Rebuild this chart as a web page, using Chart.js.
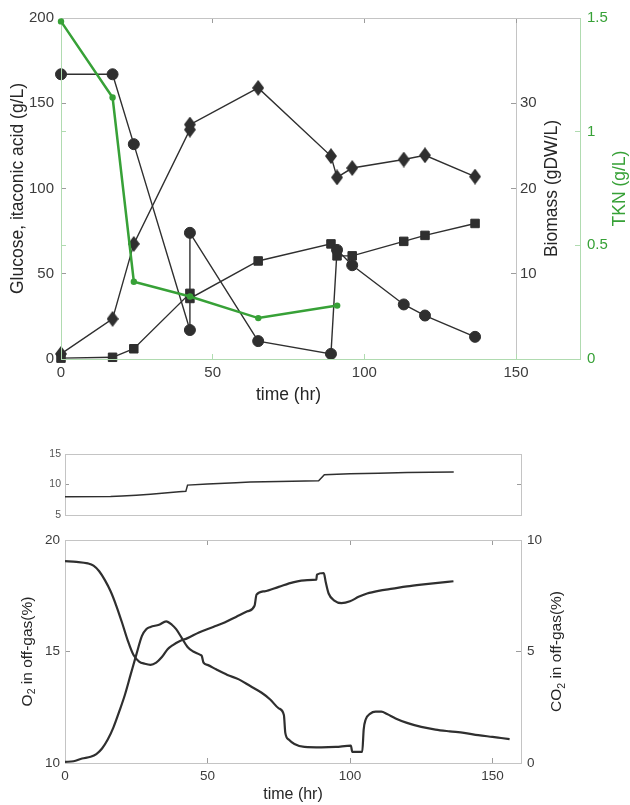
<!DOCTYPE html>
<html>
<head>
<meta charset="utf-8">
<script src="https://cdn.jsdelivr.net/npm/chart.js@4.4.1/dist/chart.umd.min.js"></script>
<style>
body { margin: 0; background: #fff; }
#wrap { position: relative; width: 630px; height: 805px; }
#wrap canvas { position: absolute; left: 0; }
</style>
</head>
<body>
<div id="wrap">
  <canvas id="cA" width="630" height="410" style="top:0px"></canvas>
  <canvas id="cB" width="630" height="410" style="top:0px"></canvas>
  <canvas id="cC" width="630" height="85" style="top:440px"></canvas>
  <canvas id="cD" width="630" height="280" style="top:525px"></canvas>
</div>
<script>
// sampled values (top panel)
var tSample  = [0, 17, 24, 42.5, 42.5, 65, 89, 91, 96, 113, 120, 136.5];
var glucose  = [167, 167, 126, 17, 74, 10.5, 3, 64, 55, 32, 25.5, 13];
var itaconic = [0.5, 1, 6, 38.5, 35.5, 57.5, 67.5, 60.5, 60.5, 69, 72.5, 79.5];
var biomass  = [0.6, 4.7, 13.5, 26.9, 27.5, 31.8, 23.8, 21.3, 22.4, 23.4, 23.9, 21.4];
var tTKN = [0, 17, 24, 42.5, 65, 91];
var tkn  = [1.485, 1.15, 0.34, 0.275, 0.18, 0.235];

// small panel trace
var tAir = [0, 16, 20, 25, 30, 35, 40, 42.4, 43, 50, 60, 65, 75, 89, 91, 100, 110, 120, 136.4];
var air  = [8.0, 8.02, 8.1, 8.25, 8.4, 8.6, 8.8, 8.88, 9.9, 10.1, 10.3, 10.4, 10.5, 10.6, 11.6, 11.75, 11.85, 11.95, 12.05];

// off-gas traces
var tO2 = [0, 4, 8, 10, 12, 14, 16, 18, 20, 22, 24, 26, 28, 30, 32, 34, 36, 38, 40, 43, 47, 52, 56, 60, 64,
           66.5, 67.2, 70, 75, 80, 85, 88.2, 88.4, 90.8, 91.5, 92.5, 94.5, 97, 100, 103, 106, 110, 115, 120, 125, 130, 136.3];
var o2  = [19.05, 19.02, 18.95, 18.85, 18.6, 18.2, 17.7, 17.05, 16.3, 15.5, 14.85, 14.55, 14.45, 14.4, 14.5, 14.75, 15.1, 15.3, 15.45, 15.6, 15.85, 16.1, 16.3, 16.55, 16.8,
           17.05, 17.55, 17.7, 17.9, 18.1, 18.2, 18.22, 18.45, 18.52, 18.1, 17.6, 17.28, 17.17, 17.25, 17.45, 17.6, 17.72, 17.82, 17.92, 18.0, 18.07, 18.15];
var tCO2 = [0, 3, 6, 9, 11, 13, 15, 17, 19, 21, 23, 25, 27, 28.5, 30, 33, 35.5, 37.5, 39, 41, 43, 45, 47.5, 48, 48.6, 50, 53, 57, 61, 65, 69, 72, 75,
            76.8, 77.3, 78.5, 80.5, 84, 90, 95, 100.3, 100.8, 104.3, 104.8, 105.5, 107, 109, 111, 113, 116, 120, 125, 130, 135, 140, 145, 150, 153, 156];
var co2  = [0.05, 0.08, 0.2, 0.28, 0.4, 0.65, 1.05, 1.6, 2.3, 3.05, 3.95, 4.85, 5.7, 6.0, 6.1, 6.2, 6.35, 6.2, 6.0, 5.6, 5.2, 5.0, 4.85, 4.8, 4.5, 4.4, 4.2, 3.95, 3.75, 3.45, 3.15, 2.85, 2.45,
            2.15, 1.35, 1.05, 0.85, 0.72, 0.7, 0.72, 0.78, 0.5, 0.5, 1.5, 1.95, 2.2, 2.3, 2.3, 2.2, 2.0, 1.8, 1.62, 1.5, 1.42, 1.35, 1.25, 1.17, 1.12, 1.07];

// tick labels
var timeTicks = [0, 50, 100, 150];
var glcTicks = [0, 50, 100, 150, 200];
var bioTicks = [10, 20, 30];
var tknTicks = [0, 0.5, 1, 1.5];
var airTicks = [5, 10, 15];
var o2Ticks = [10, 15, 20];
var co2Ticks = [0, 5, 10];

var FONT = '"Liberation Sans", Arial, sans-serif';
var INK = '#2f2f2f', TXT = '#262626', TICK = '#3c3c3c', FRAME = '#c4c4c4', MARK = '#9c9c9c';
var GREEN = '#37a137', GREEN_AX = '#b0dbb0';
Chart.defaults.font.family = FONT;

function pts(xs, ys) {
  return xs.map(function (x, i) { return {x: x, y: ys[i]}; });
}

// axis with inward tick marks and a fixed box size
function scale(o) {
  return {
    type: 'linear', position: o.pos, min: o.min, max: o.max,
    afterBuildTicks: function (s) { s.ticks = o.ticks.map(function (v) { return {value: v}; }); },
    afterFit: function (s) {
      if (s.isHorizontal()) s.height = o.size; else s.width = o.size;
      // labels may overhang the plot corners, keep the frame where it is
      s.paddingTop = s.paddingBottom = s.paddingLeft = s.paddingRight = 0;
    },
    ticks: {
      display: !!o.labels, color: o.labelColor || TICK, font: {size: o.fontSize || 15},
      padding: o.pad || 0, maxRotation: 0, autoSkip: false,
      callback: function (v) { return String(v); }
    },
    grid: {drawOnChartArea: false, drawTicks: o.mark !== 0, tickLength: o.mark === undefined ? -5 : o.mark, color: o.markColor || MARK},
    border: {display: true, color: o.line || FRAME, width: 1},
    title: o.title ? {display: true, text: o.title, color: TXT, font: {size: o.titleSize || 17.5}, padding: o.titlePad} : {display: false}
  };
}

// rotated axis titles (bottom-to-top) with optional subscripts
var sideTitles = {
  id: 'sideTitles',
  afterDraw: function (chart, args, opts) {
    var ctx = chart.ctx, area = chart.chartArea;
    (opts.items || []).forEach(function (it) {
      var size = it.size, sub = size * 0.68;
      ctx.save();
      ctx.translate(it.x, (area.top + area.bottom) / 2);
      ctx.rotate(-Math.PI / 2);
      ctx.fillStyle = it.color;
      ctx.textBaseline = 'middle';
      ctx.textAlign = 'left';
      var widths = it.parts.map(function (p) {
        ctx.font = (p[1] ? sub : size) + 'px ' + FONT;
        return ctx.measureText(p[0]).width;
      });
      var x = -widths.reduce(function (a, b) { return a + b; }, 0) / 2;
      it.parts.forEach(function (p, i) {
        ctx.font = (p[1] ? sub : size) + 'px ' + FONT;
        ctx.fillText(p[0], x, p[1] ? size * 0.32 : 0);
        x += widths[i];
      });
      ctx.restore();
    });
  }
};

function diamond(w, h, color) {
  var c = document.createElement('canvas');
  c.width = w; c.height = h;
  var g = c.getContext('2d');
  g.fillStyle = color;
  g.beginPath();
  g.moveTo(w / 2, 0); g.lineTo(w, h / 2); g.lineTo(w / 2, h); g.lineTo(0, h / 2);
  g.closePath();
  g.fill();
  return c;
}

var base = {
  responsive: false, animation: false, events: [],
  plugins: {legend: {display: false}, tooltip: {enabled: false}}
};
function opts(extra) {
  return Object.assign({}, base, extra, {plugins: Object.assign({}, base.plugins, extra.plugins || {})});
}

// top panel, black series
new Chart(document.getElementById('cA'), {
  type: 'line',
  data: {datasets: [
    {data: pts(tSample, glucose), yAxisID: 'y', borderColor: INK, backgroundColor: INK, borderWidth: 1.4,
     pointStyle: 'circle', pointRadius: 5.5, pointBorderWidth: 1, clip: false},
    {data: pts(tSample, itaconic), yAxisID: 'y', borderColor: INK, backgroundColor: INK, borderWidth: 1.4,
     pointStyle: 'rect', pointRadius: 6, pointBorderWidth: 1, clip: false},
    {data: pts(tSample, biomass), yAxisID: 'y1', borderColor: INK, backgroundColor: INK, borderWidth: 1.4,
     pointStyle: diamond(12, 16, INK), pointRadius: 7, clip: false}
  ]},
  options: opts({
    layout: {padding: {top: 18, left: 0, right: 0, bottom: 0}},
    plugins: {sideTitles: {items: [
      {x: 18, size: 17.5, color: TXT, parts: [['Glucose, itaconic acid (g/L)']]},
      {x: 552, size: 17.5, color: TXT, parts: [['Biomass (gDW/L)']]}
    ]}},
    scales: {
      x: scale({pos: 'bottom', min: 0, max: 150, ticks: timeTicks, size: 51, labels: true, pad: 9.5,
                title: 'time (hr)', titlePad: {top: 0, bottom: 4}}),
      y: scale({pos: 'left', min: 0, max: 200, ticks: glcTicks, size: 61, labels: true, pad: 12}),
      y1: scale({pos: 'right', min: 0, max: 40, ticks: bioTicks, size: 114, labels: true, pad: 9})
    }
  }),
  plugins: [sideTitles]
});

// top panel, TKN overlay with its own wider frame
new Chart(document.getElementById('cB'), {
  type: 'line',
  data: {datasets: [
    {data: pts(tTKN, tkn), xAxisID: 'x', yAxisID: 'yT', borderColor: GREEN, backgroundColor: GREEN, borderWidth: 2.5,
     pointStyle: 'circle', pointRadius: 3.2, pointBorderWidth: 0, clip: false}
  ]},
  options: opts({
    layout: {padding: {top: 18, left: 0, right: 0, bottom: 0}},
    plugins: {sideTitles: {items: [
      {x: 620, size: 17.5, color: GREEN, parts: [['TKN (g/L)']]}
    ]}},
    scales: {
      x: scale({pos: 'bottom', min: 0, max: 171, ticks: [50, 100, 150], size: 51, line: GREEN_AX, markColor: GREEN_AX}),
      xTop: scale({pos: 'top', min: 0, max: 171, ticks: [50, 100, 150], size: 0}),
      yL: scale({pos: 'left', min: 0, max: 1.5, ticks: [0.5, 1], size: 61, line: GREEN_AX, markColor: GREEN_AX}),
      yT: scale({pos: 'right', min: 0, max: 1.5, ticks: tknTicks, size: 50, labels: true, pad: 12,
                 labelColor: GREEN, line: GREEN_AX, markColor: GREEN_AX})
    }
  }),
  plugins: [sideTitles]
});

// small middle panel
new Chart(document.getElementById('cC'), {
  type: 'line',
  data: {datasets: [
    {data: pts(tAir, air), borderColor: INK, borderWidth: 1.5, pointRadius: 0, clip: false}
  ]},
  options: opts({
    layout: {padding: {top: 14, left: 0, right: 0, bottom: 0}},
    scales: {
      x: scale({pos: 'bottom', min: 0, max: 160, ticks: [], size: 10, mark: 0}),
      xTop: scale({pos: 'top', min: 0, max: 160, ticks: [], size: 0, mark: 0}),
      y: scale({pos: 'left', min: 5, max: 15, ticks: airTicks, size: 65, labels: true, pad: 8,
                fontSize: 10.5, labelColor: '#555555', mark: -4}),
      y2: scale({pos: 'right', min: 5, max: 15, ticks: [10], size: 109, mark: -4})
    }
  })
});

// off-gas O2 / CO2
new Chart(document.getElementById('cD'), {
  type: 'line',
  data: {datasets: [
    {data: pts(tO2, o2), yAxisID: 'y', borderColor: INK, borderWidth: 2.2, pointRadius: 0,
     cubicInterpolationMode: 'monotone', clip: false},
    {data: pts(tCO2, co2), yAxisID: 'y2', borderColor: INK, borderWidth: 2.2, pointRadius: 0,
     cubicInterpolationMode: 'monotone', clip: false}
  ]},
  options: opts({
    layout: {padding: {top: 15, left: 0, right: 0, bottom: 0}},
    plugins: {sideTitles: {items: [
      {x: 27.5, size: 15.5, color: TXT, parts: [['O'], ['2', true], [' in off-gas(%)']]},
      {x: 557, size: 15.5, color: TXT, parts: [['CO'], ['2', true], [' in off-gas(%)']]}
    ]}},
    scales: {
      x: scale({pos: 'bottom', min: 0, max: 160, ticks: timeTicks, size: 42, labels: true, pad: 9.7, fontSize: 13.5,
                title: 'time (hr)', titleSize: 16, titlePad: {top: 0, bottom: 0.5}}),
      xTop: scale({pos: 'top', min: 0, max: 160, ticks: [50, 100, 150], size: 0}),
      y: scale({pos: 'left', min: 10, max: 20, ticks: o2Ticks, size: 65, labels: true, pad: 10, fontSize: 13.5}),
      y2: scale({pos: 'right', min: 0, max: 10, ticks: co2Ticks, size: 109, labels: true, pad: 11, fontSize: 13.5})
    }
  }),
  plugins: [sideTitles]
});
</script>
</body>
</html>
